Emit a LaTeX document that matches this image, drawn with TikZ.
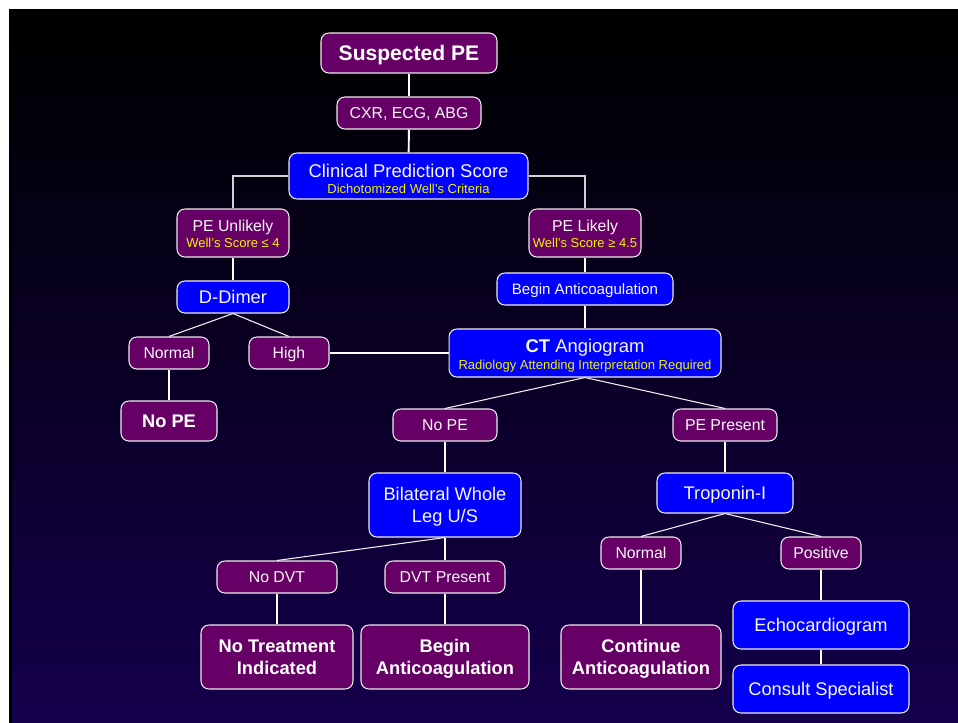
\documentclass[tikz,border=0pt]{standalone}
\usepackage{fontspec}
\setmainfont{Liberation Sans}
\usetikzlibrary{positioning}
\definecolor{pebox}{HTML}{660066}
\definecolor{ctbox}{HTML}{0000FF}
\definecolor{bgbot}{RGB}{20,0,76}
\definecolor{subtxt}{HTML}{F2F200}

\begin{document}
\begin{tikzpicture}[x=0.02cm,y=-0.02cm]
            \tikzset{
                box/.style={draw=white!85!gray, line width=0.6pt, rounded corners=4.5pt, inner sep=0pt,
                    align=center, text=white!94!gray, text depth=0pt},
                purplebox/.style={box, fill=pebox},
                bluebox/.style={box, fill=ctbox},
                small/.style={font=\fontsize{9}{10.8}\selectfont},
                medium/.style={font=\fontsize{10.4}{12.3}\selectfont},
                outcome/.style={font=\fontsize{10.4}{12.3}\selectfont\bfseries, text=white},
                info/.style={font=\fontsize{7.4}{#1}\selectfont},
                link/.style={draw=white, line width=1.1pt},
                thinlink/.style={draw=white!90!gray, line width=0.6pt},
                elbow/.style={draw=white!65!gray, line width=0.6pt},
            }
            \def\sub#1{\\{\color{subtxt}#1}}
            \useasboundingbox (0,0) rectangle (958,723);
            \shade [top color=black, bottom color=bgbot] (9,28) rectangle (958,723);
            \fill [black] (9,9) rectangle (958,28);
            \fill [black] (9,9) rectangle (11.5,723);
            % top of the chart
            \node [purplebox, minimum width=3.52cm, minimum height=0.8cm,
                font=\fontsize{12}{14}\selectfont\bfseries, text=white] (susp) at (409,53) {Suspected PE};
            \node [purplebox, small, minimum width=2.88cm, minimum height=0.64cm] (cxr) at (409,113) {CXR, ECG, ABG};
            \node [bluebox, info=8.9pt, text height=19.6pt, minimum width=4.78cm, minimum height=0.92cm] (cps) at (408.5,176)
                {{\fontsize{10.5}{11}\selectfont Clinical Prediction Score}\sub{Dichotomized Well’s Criteria}};
            \node [purplebox, info=9.2pt, text height=16.2pt, minimum width=2.24cm, minimum height=0.96cm] (unl) at (233,233)
                {{\fontsize{9}{10}\selectfont PE Unlikely}\sub{Well’s Score ≤ 4}};
            \node [purplebox, info=9.2pt, text height=16.2pt, minimum width=2.24cm, minimum height=0.96cm] (lik) at (585,233)
                {{\fontsize{9}{10}\selectfont PE Likely}\sub{Well’s Score ≥ 4.5}};
            % left branch
            \node [bluebox, medium, minimum width=2.24cm, minimum height=0.64cm] (dd) at (233,297) {D-Dimer};
            \node [purplebox, small, minimum width=1.6cm, minimum height=0.64cm] (nrm) at (169,353) {Normal};
            \node [purplebox, small, minimum width=1.6cm, minimum height=0.64cm] (high) at (289,353) {High};
            \node [purplebox, outcome, minimum width=1.92cm, minimum height=0.8cm] (nope) at (169,421) {No PE};
            % right branch
            \node [bluebox, minimum width=3.52cm, minimum height=0.64cm, font=\fontsize{8.6}{10}\selectfont] (ba) at (585,289) {Begin Anticoagulation};
            \node [bluebox, info=10pt, text height=19.3pt, minimum width=5.44cm, minimum height=0.96cm] (cta) at (585,353)
                {{\fontsize{10.5}{11}\selectfont\textbf{CT} Angiogram}\sub{Radiology Attending Interpretation Required}};
            \node [purplebox, small, minimum width=2.08cm, minimum height=0.64cm] (nope2) at (445,425) {No PE};
            \node [purplebox, small, minimum width=2.08cm, minimum height=0.64cm] (pep) at (725,425) {PE Present};
            \node [bluebox, medium, minimum width=3.04cm, minimum height=1.28cm] (bil) at (445,505) {Bilateral Whole\\Leg U/S};
            \node [bluebox, medium, minimum width=2.72cm, minimum height=0.8cm] (trop) at (725,493) {Troponin-I};
            \node [purplebox, small, minimum width=2.4cm, minimum height=0.64cm] (nodvt) at (277,577) {No DVT};
            \node [purplebox, small, minimum width=2.4cm, minimum height=0.64cm] (dvt) at (445,577) {DVT Present};
            \node [purplebox, small, minimum width=1.6cm, minimum height=0.64cm] (nrm2) at (641,553) {Normal};
            \node [purplebox, small, minimum width=1.6cm, minimum height=0.64cm] (pos) at (821,553) {Positive};
            \node [purplebox, outcome, minimum width=3.04cm, minimum height=1.28cm] (notreat) at (277,657) {No Treatment\\Indicated};
            \node [purplebox, outcome, minimum width=3.36cm, minimum height=1.28cm] (begin) at (445,657) {Begin\\Anticoagulation};
            \node [purplebox, outcome, minimum width=3.2cm, minimum height=1.28cm] (cont) at (641,657) {Continue\\Anticoagulation};
            \node [bluebox, medium, minimum width=3.52cm, minimum height=0.96cm] (echo) at (821,625) {Echocardiogram};
            \node [bluebox, medium, minimum width=3.52cm, minimum height=0.96cm] (cons) at (821,689) {Consult Specialist};
            % connectors
            \draw [link] (susp) -- (cxr);
            \draw [link] (cxr) -- (cps);
            \draw [elbow] (cps.west) -| (unl.north);
            \draw [elbow] (cps.east) -| (lik.north);
            \draw [link] (unl) -- (dd);
            \draw [link] (lik) -- (ba);
            \draw [link] (ba) -- (cta);
            \draw [thinlink] (dd.south) -- (nrm.north);
            \draw [thinlink] (dd.south) -- (high.north);
            \draw [link] (nrm) -- (nope);
            \draw [link] (high) -- (cta);
            \draw [thinlink] (cta.south) -- (nope2.north);
            \draw [thinlink] (cta.south) -- (pep.north);
            \draw [link] (nope2) -- (bil);
            \draw [link] (pep) -- (trop);
            \draw [thinlink] (bil.south) -- (nodvt.north);
            \draw [link] (bil) -- (dvt);
            \draw [thinlink] (trop.south) -- (nrm2.north);
            \draw [thinlink] (trop.south) -- (pos.north);
            \draw [link] (nodvt) -- (notreat);
            \draw [link] (dvt) -- (begin);
            \draw [link] (nrm2) -- (cont);
            \draw [link] (pos) -- (echo);
            \draw [link] (echo) -- (cons);
        \end{tikzpicture}
\end{document}
